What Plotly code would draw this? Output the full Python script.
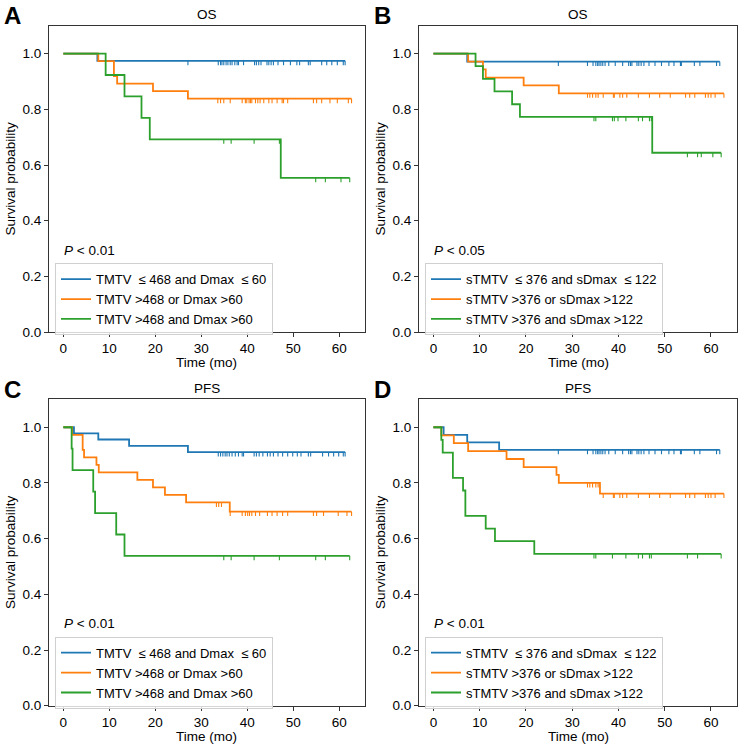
import plotly.graph_objects as go

W, H = 742, 754

# ---------------- data ----------------
labels_tmtv = ["TMTV\u00a0\u00a0≤ 468 and Dmax\u00a0\u00a0≤ 60",
               "TMTV >468 or Dmax >60",
               "TMTV >468 and Dmax >60"]
labels_stmtv = ["sTMTV\u00a0\u00a0≤ 376 and sDmax\u00a0\u00a0≤ 122",
                "sTMTV >376 or sDmax >122",
                "sTMTV >376 and sDmax >122"]

# Panel A - OS (TMTV / Dmax)
A_blue_t = [7.4]
A_blue_s = [0.974]
A_blue_c = [27.1, 33.7, 34.2, 34.5, 34.9, 35.4, 35.8, 36.3, 36.7, 37.3, 37.8, 38.1, 39.2,
            41.6, 42.0, 42.5, 43.0, 44.3, 44.7, 45.2, 45.7, 46.7, 47.9, 49.4, 50.8, 51.4,
            53.3, 53.7, 56.2, 57.3, 58.4, 59.6, 60.9, 61.3]
A_orange_t = [7.6, 11.0, 11.7, 19.5, 27.1]
A_orange_s = [0.973, 0.919, 0.892, 0.865, 0.838]
A_orange_c = [33.6, 34.2, 34.9, 36.3, 38.9, 39.6, 39.9, 40.4, 40.7, 41.0, 41.8, 42.3, 42.8,
              43.6, 44.7, 45.4, 46.5, 47.6, 47.9, 48.8, 54.4, 55.1, 56.2, 58.0, 59.6, 62.0, 62.7]
A_green_t = [9.2, 13.3, 17.0, 18.8, 47.3]
A_green_s = [0.923, 0.846, 0.769, 0.692, 0.554]
A_green_c = [34.9, 36.5, 41.5, 47.0, 54.9, 57.0, 60.4, 62.3]

# Panel B - OS (sTMTV / sDmax)
B_blue_t = [7.3]
B_blue_s = [0.971]
B_blue_c = [27.0, 33.3, 34.5, 35.1, 35.5, 35.8, 36.2, 36.6, 37.1, 37.9, 39.3, 40.9, 42.2,
            42.6, 42.9, 44.0, 44.4, 44.9, 45.5, 46.6, 47.9, 49.3, 50.9, 52.0, 53.4, 53.6,
            56.4, 57.6, 61.2, 61.9]
B_orange_t = [7.5, 10.7, 11.3, 19.5, 27.1]
B_orange_s = [0.971, 0.943, 0.914, 0.886, 0.857]
B_orange_c = [33.3, 33.8, 34.4, 35.1, 35.6, 36.7, 38.9, 39.1, 40.3, 40.9, 41.8, 44.3, 46.7,
              48.9, 51.2, 54.5, 55.4, 56.5, 58.8, 59.4, 60.0, 60.9, 62.8]
B_green_t = [9.1, 10.7, 13.2, 17.0, 18.7, 47.3]
B_green_s = [0.955, 0.909, 0.864, 0.818, 0.773, 0.644]
B_green_c = [34.7, 35.1, 38.7, 39.1, 39.9, 41.6, 44.3, 45.2, 46.7, 47.1, 54.9, 57.1, 57.9,
             60.4, 62.2]

# Panel C - PFS (TMTV / Dmax)
C_blue_t = [2.3, 7.6, 14.3, 27.1]
C_blue_s = [0.978, 0.956, 0.933, 0.911]
C_blue_c = [33.7, 34.2, 34.7, 35.2, 35.6, 36.1, 36.7, 37.4, 38.1, 38.9, 39.2, 41.5, 42.0,
            42.6, 43.4, 44.4, 45.0, 45.7, 46.7, 47.7, 48.8, 49.9, 50.9, 51.7, 53.3, 53.8,
            56.4, 57.7, 58.8, 59.9, 60.9, 61.3]
C_orange_t = [1.9, 4.2, 4.5, 7.2, 7.7, 16.1, 19.5, 22.1, 26.7, 36.2]
C_orange_s = [0.973, 0.919, 0.892, 0.865, 0.838, 0.811, 0.784, 0.757, 0.730, 0.697]
C_orange_c = [33.3, 33.8, 34.4, 36.3, 38.9, 39.6, 40.1, 40.5, 41.0, 41.8, 42.7, 44.4, 45.4,
              46.5, 47.7, 48.8, 54.4, 55.1, 56.6, 59.8, 61.7, 62.7]
C_green_t = [1.8, 2.0, 6.5, 6.9, 11.5, 13.3]
C_green_s = [0.923, 0.846, 0.769, 0.692, 0.615, 0.538]
C_green_c = [34.9, 36.5, 41.5, 47.0, 54.9, 57.0, 62.3]

# Panel D - PFS (sTMTV / sDmax)
D_blue_t = [2.2, 7.3, 14.2]
D_blue_s = [0.973, 0.946, 0.919]
D_blue_c = [27.0, 33.3, 34.5, 35.1, 35.5, 35.8, 36.2, 36.6, 37.1, 37.9, 39.3, 40.9, 42.2,
            42.6, 42.9, 44.0, 44.4, 44.9, 45.5, 46.6, 47.9, 49.3, 50.9, 52.0, 53.4, 53.6,
            56.4, 57.6, 61.2, 61.9]
D_orange_t = [1.7, 4.4, 7.5, 15.8, 19.5, 26.6, 27.1, 36.0]
D_orange_s = [0.971, 0.943, 0.914, 0.886, 0.857, 0.829, 0.800, 0.762]
D_orange_c = [33.3, 33.8, 34.4, 35.1, 35.6, 36.7, 38.9, 39.1, 40.3, 40.9, 41.8, 44.3, 46.7,
              48.9, 51.2, 54.5, 55.4, 56.5, 58.8, 59.4, 60.0, 60.9, 62.8]
D_green_t = [1.7, 2.0, 4.2, 6.4, 6.9, 11.3, 13.3, 21.8]
D_green_s = [0.955, 0.909, 0.818, 0.773, 0.682, 0.636, 0.591, 0.545]
D_green_c = [34.7, 35.1, 38.7, 41.6, 44.3, 45.2, 46.7, 47.1, 54.9, 57.1, 62.2]

panel_titles = ["OS", "OS", "PFS", "PFS"]
panel_letters = ["A", "B", "C", "D"]
p_values = ["0.01", "0.05", "0.01", "0.01"]
x_ticks = [0, 10, 20, 30, 40, 50, 60]
y_ticks = [0.0, 0.2, 0.4, 0.6, 0.8, 1.0]

panels = [
    (labels_tmtv, [(A_blue_t, A_blue_s, A_blue_c), (A_orange_t, A_orange_s, A_orange_c), (A_green_t, A_green_s, A_green_c)]),
    (labels_stmtv, [(B_blue_t, B_blue_s, B_blue_c), (B_orange_t, B_orange_s, B_orange_c), (B_green_t, B_green_s, B_green_c)]),
    (labels_tmtv, [(C_blue_t, C_blue_s, C_blue_c), (C_orange_t, C_orange_s, C_orange_c), (C_green_t, C_green_s, C_green_c)]),
    (labels_stmtv, [(D_blue_t, D_blue_s, D_blue_c), (D_orange_t, D_orange_s, D_orange_c), (D_green_t, D_green_s, D_green_c)]),
]

# ---------------- styling / layout ----------------
COLORS = ["#1f77b4", "#ff7f0e", "#2ca02c"]
FONT = "Liberation Sans, Arial, sans-serif"
FS = 13.5
SPINE = "#333333"


def px(x):
    return x / W


def py(y):
    return 1 - y / H


# axes boxes in pixels: (left, right, top, bottom)
boxes = [(49, 365, 26, 335.7), (419, 737, 26, 335.7),
         (49, 365, 403.7, 713.3), (419, 737, 403.7, 713.3)]


def step_value(times, surv, t):
    v = 1.0
    for ti, si in zip(times, surv):
        if ti <= t:
            v = si
    return v


fig = go.Figure()
layout = dict(width=W, height=H, margin=dict(l=0, r=0, t=0, b=0),
              paper_bgcolor="white", plot_bgcolor="white",
              font=dict(family=FONT, size=FS, color="black"),
              showlegend=True)
annotations = []

for i, ((labels, groups), (l, r, t, b)) in enumerate(zip(panels, boxes)):
    n = i + 1
    xa = "xaxis" if n == 1 else f"xaxis{n}"
    ya = "yaxis" if n == 1 else f"yaxis{n}"
    xref = "x" if n == 1 else f"x{n}"
    yref = "y" if n == 1 else f"y{n}"
    leg = "legend" if n == 1 else f"legend{n}"

    axis_common = dict(showline=True, mirror=True, linecolor=SPINE, linewidth=1,
                       ticks="outside", ticklen=4, tickwidth=1, tickcolor=SPINE,
                       showgrid=False, zeroline=False,
                       tickfont=dict(family=FONT, size=FS, color="black"))
    layout[xa] = dict(domain=[px(l), px(r)], range=[-3.125, 65.625], tickvals=x_ticks,
                      anchor=yref, **axis_common)
    layout[ya] = dict(domain=[py(b), py(t)], range=[0, 1.1], tickvals=y_ticks,
                      tickformat=".1f", anchor=xref, **axis_common)

    for (times, surv, cens), label, col in zip(groups, labels, COLORS):
        end = max(cens + times)
        xs = [0] + list(times) + [end]
        ys = [1.0] + list(surv) + [surv[-1]]
        fig.add_trace(go.Scatter(x=xs, y=ys, mode="lines", line=dict(color=col, width=1.8, shape="hv"),
                                 name=label, legend=leg, xaxis=xref, yaxis=yref, hoverinfo="skip"))
        cy = [step_value(times, surv, c) for c in cens]
        fig.add_trace(go.Scatter(x=cens, y=cy, mode="markers",
                                 marker=dict(size=1, color="rgba(0,0,0,0)"),
                                 error_y=dict(type="data", symmetric=False, array=[0] * len(cens),
                                              arrayminus=[0.016] * len(cens), width=0,
                                              thickness=1.1, color=col),
                                 showlegend=False, xaxis=xref, yaxis=yref, hoverinfo="skip"))

    # legend
    layout[leg] = dict(x=px(l + 6), y=py(b - 69.7), xanchor="left", yanchor="top",
                       bgcolor="rgba(255,255,255,0.8)", bordercolor="#d0d0d0", borderwidth=1,
                       font=dict(family=FONT, size=13, color="black"), tracegroupgap=0,
                       itemclick=False, itemdoubleclick=False)

    cx = (l + r) / 2
    # title
    annotations.append(dict(text=panel_titles[i], x=px(cx), y=py(t - 11), xref="paper", yref="paper",
                            xanchor="center", yanchor="middle", showarrow=False,
                            font=dict(family=FONT, size=FS, color="black")))
    # panel letter
    annotations.append(dict(text=f"<b>{panel_letters[i]}</b>", x=px(l - 36.5), y=py(t - 10.5),
                            xref="paper", yref="paper", xanchor="center", yanchor="middle",
                            showarrow=False, font=dict(family=FONT, size=24, color="black")))
    # x title
    annotations.append(dict(text="Time (mo)", x=px(cx), y=py(b + 31), xref="paper", yref="paper",
                            xanchor="center", yanchor="middle", showarrow=False,
                            font=dict(family=FONT, size=FS, color="black")))
    # y title
    annotations.append(dict(text="Survival probability", x=px(l - 38.5), y=py((t + b) / 2),
                            xref="paper", yref="paper", xanchor="center", yanchor="middle",
                            textangle=-90, showarrow=False,
                            font=dict(family=FONT, size=FS, color="black")))
    # p value
    annotations.append(dict(text=f"<i>P</i> &lt; {p_values[i]}", x=px(l + 13), y=py(b - 83),
                            xref="paper", yref="paper", xanchor="left", yanchor="middle",
                            showarrow=False, font=dict(family=FONT, size=FS, color="black")))

layout["annotations"] = annotations
fig.update_layout(**layout)
fig.write_html("out.html", config={"displayModeBar": False},
               post_script="document.body.style.margin='0';document.body.style.padding='0';")
